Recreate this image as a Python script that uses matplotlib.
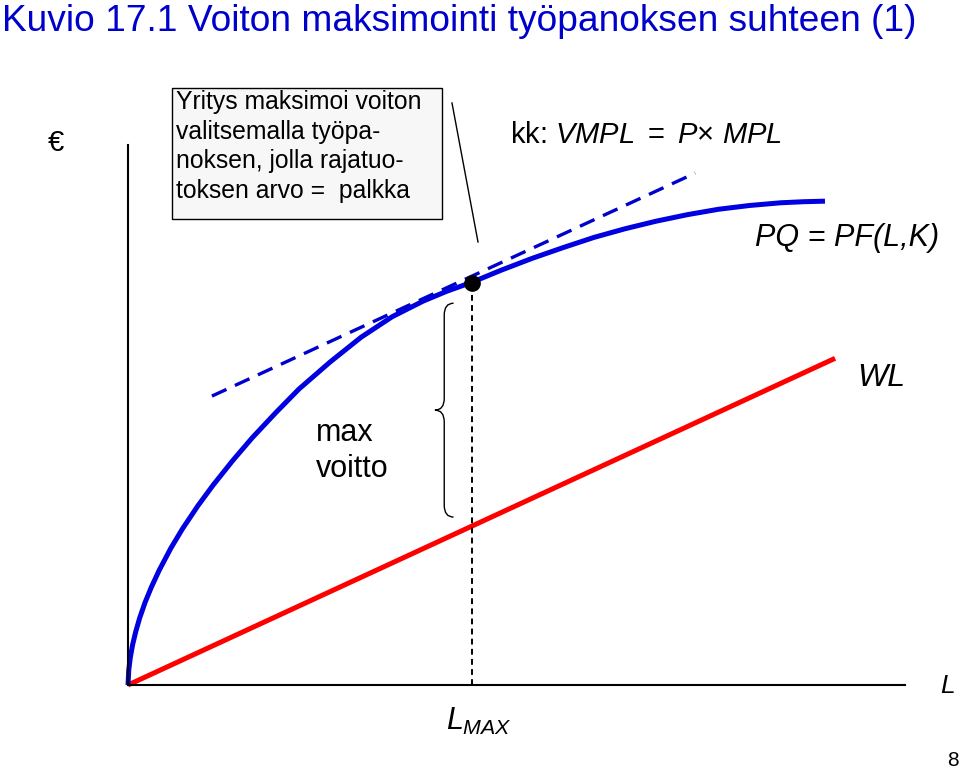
import matplotlib.pyplot as plt
from matplotlib.path import Path
from matplotlib.patches import PathPatch, Rectangle

plt.rcParams['font.family'] = ['Liberation Sans', 'DejaVu Sans']
plt.rcParams['mathtext.fontset'] = 'custom'
plt.rcParams['mathtext.rm'] = 'Liberation Sans'
plt.rcParams['mathtext.it'] = 'Liberation Sans:italic'

# value of output PQ = PF(L,K)
labour = [0, 0.01, 0.03, 0.06, 0.10, 0.15, 0.22, 0.30, 0.40, 0.55, 0.70,
          0.90, 1.10, 1.35, 1.60, 1.90, 2.20, 2.60, 3.00, 3.40, 3.80, 4.10,
          4.43, 4.80, 5.20, 5.60, 6.00, 6.40, 6.80, 7.20, 7.60, 8.00, 8.40,
          8.70, 8.97]
revenue = [0, 0.28, 0.51, 0.75, 0.99, 1.24, 1.53, 1.81, 2.12, 2.53, 2.89,
           3.32, 3.71, 4.16, 4.58, 5.04, 5.48, 5.98, 6.44, 6.82, 7.11, 7.29,
           7.46, 7.68, 7.90, 8.10, 8.29, 8.45, 8.59, 8.71, 8.81, 8.88, 8.93,
           8.95, 8.96]

# wage bill WL
wl_labour = [0, 9.1]
wl_values = [0, 6.05]

# tangent with slope VMPL = W
tangent_labour = [1.08, 7.30]
tangent_values = [5.35, 9.48]

l_max = 4.43
pq_at_lmax = 7.44
brace_low, brace_high = 3.11, 7.07

W, H = 960, 769
fig = plt.figure(figsize=(W / 100, H / 100), dpi=100)


def fx(x):
    return x / W


def fy(y):
    return 1 - y / H


ax = fig.add_axes([fx(128), fy(685), (905 - 128) / W, (685 - 145) / H])
ax.set_xlim(0, 10)
ax.set_ylim(0, 10)
ax.set_xticks([])
ax.set_yticks([])
for side in ['top', 'right']:
    ax.spines[side].set_visible(False)
for side in ['left', 'bottom']:
    ax.spines[side].set_linewidth(1.5)
    ax.spines[side].set_color('black')
ax.patch.set_visible(False)

ax.plot(wl_labour, wl_values, color='#ff0000', lw=3.6, solid_capstyle='butt', clip_on=False)
ax.plot(labour, revenue, color='#0000e0', lw=3.6, solid_capstyle='butt',
        solid_joinstyle='round', clip_on=False)
ax.plot(tangent_labour, tangent_values, color='#0000cc', lw=2.4, dashes=(4.8, 2.8), clip_on=False)
ax.plot([l_max, l_max], [0, pq_at_lmax], color='black', lw=1.4, dashes=(3, 2.2), clip_on=False)
ax.plot([l_max], [pq_at_lmax], 'o', color='black', ms=11, clip_on=False, zorder=5)

# curly brace for max voitto
bx = l_max - 0.36
bw = 0.12
tip = (brace_low + brace_high) / 2
cy = 0.22
verts = [(bx + bw, brace_high), (bx, brace_high), (bx, brace_high - cy),
         (bx, tip + cy), (bx, tip), (bx - bw, tip),
         (bx, tip), (bx, tip - cy),
         (bx, brace_low + cy), (bx, brace_low), (bx + bw, brace_low)]
codes = [Path.MOVETO, Path.CURVE3, Path.CURVE3,
         Path.LINETO, Path.CURVE3, Path.CURVE3,
         Path.CURVE3, Path.CURVE3,
         Path.LINETO, Path.CURVE3, Path.CURVE3]
ax.add_patch(PathPatch(Path(verts, codes), fill=False, lw=1.0, color='black', clip_on=False))

# texts
fig.text(fx(2), fy(31), 'Kuvio 17.1 Voiton maksimointi työpanoksen suhteen (1)',
         color='#0000cc', fontsize=26.7, ha='left', va='baseline')
fig.text(fx(48), fy(151), '€', fontsize=21, ha='left', va='baseline')

fig.patches.append(Rectangle((fx(172), fy(219)), (442 - 172) / W, (219 - 88) / H,
                             transform=fig.transFigure, facecolor='#f7f7f7',
                             edgecolor='black', lw=1.0))
box_lines = ['Yritys maksimoi voiton', 'valitsemalla työpa-',
             'noksen, jolla rajatuo-', 'toksen arvo =  palkka']
for i, line in enumerate(box_lines):
    fig.text(fx(176), fy(109 + 29.7 * i), line, fontsize=17.8, ha='left', va='baseline')

fig.add_artist(plt.Line2D([fx(452), fx(478)], [fy(103), fy(242)], color='black', lw=1.0))

fig.text(fx(510), fy(143), r'kk: $\mathit{VMPL}\ =\ \mathit{P}{\times}\ \mathit{MPL}$',
         fontsize=21, ha='left', va='baseline')
fig.text(fx(755), fy(246), 'PQ = PF(L,K)', fontsize=22, style='italic', ha='left', va='baseline')
fig.text(fx(857), fy(386), 'WL', fontsize=23, style='italic', ha='left', va='baseline')
fig.text(fx(316), fy(441), 'max', fontsize=22, ha='left', va='baseline')
fig.text(fx(316), fy(477), 'voitto', fontsize=22, ha='left', va='baseline')
fig.text(fx(446), fy(730), r'$\mathit{L}_{\mathit{MAX}}$', fontsize=22, ha='left', va='baseline')
fig.text(fx(940), fy(693), 'L', fontsize=19, style='italic', ha='left', va='baseline')
fig.text(fx(947), fy(766), '8', fontsize=15, ha='left', va='baseline')

fig.savefig('out.png', dpi=100, facecolor='white')
